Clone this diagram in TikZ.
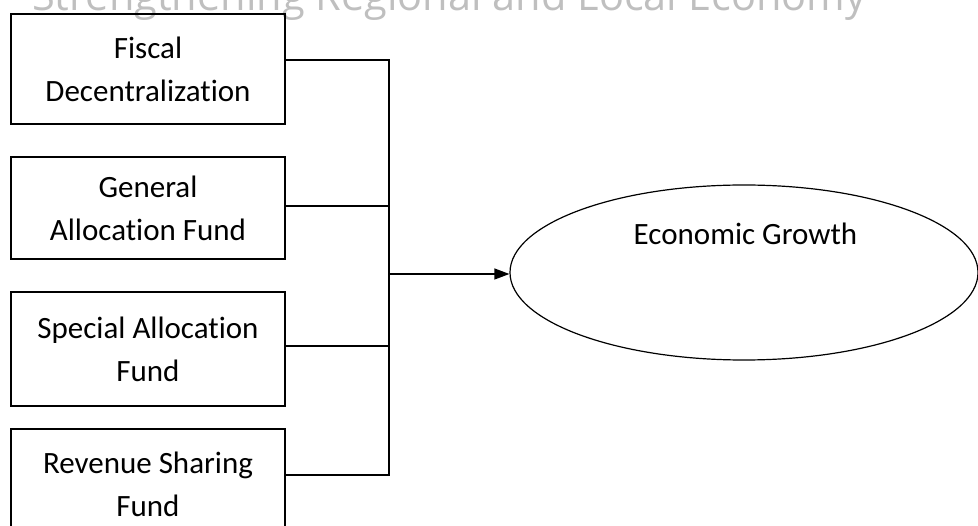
\documentclass[tikz,border=0pt]{standalone}
\usepackage{fontspec}
\setmainfont{Carlito}[Ligatures=NoCommon]
\newfontfamily\headfont{Open Sans}
\usetikzlibrary{arrows.meta,shapes.geometric}
\begin{document}
\begin{tikzpicture}[x=1pt,y=-1pt,
  box/.style={draw,line width=1.4pt,minimum width=274pt,inner sep=0pt,align=center,font=\fontsize{31}{43}\selectfont},
  conn/.style={line width=1.2pt},
  lbl/.style={font=\fontsize{31}{43}\selectfont,inner sep=0pt}
  ]
\useasboundingbox (0,0) rectangle (978,526);
\node[anchor=base west,text=black!25,inner sep=0pt] (hdr) at (32,11) {\resizebox{834pt}{!}{\headfont Strengthening Regional and Local Economy}};
\node[box,minimum height=110pt] (b1) at (148,69) {Fiscal\\Decentralization};
\node[box,minimum height=102pt] (b2) at (148,208) {General\\Allocation Fund};
\node[box,minimum height=114pt] (b3) at (148,349) {Special Allocation\\Fund};
\node[box,minimum height=110pt] (b4) at (148,484) {Revenue Sharing\\Fund};
\node[draw,ellipse,line width=1.2pt,minimum width=468pt,minimum height=175pt,inner sep=0pt] (eg) at (744,272.5) {};
\node[lbl,anchor=base] (egt) at (745.5,245) {Economic Growth};
\coordinate (j1) at (389,60);
\coordinate (j2) at (389,206);
\coordinate (j3) at (389,346);
\coordinate (j4) at (389,475);
\coordinate (jm) at (389,274);
\draw[conn] (b1.east |- j1) -- (j1) -- (j4) -- (b4.east |- j4);
\draw[conn] (b2.east |- j2) -- (j2);
\draw[conn] (b3.east |- j3) -- (j3);
\draw[conn,-{Triangle[length=15pt,width=11pt]}] (jm) -- (eg.west |- jm);
\end{tikzpicture}
\end{document}
